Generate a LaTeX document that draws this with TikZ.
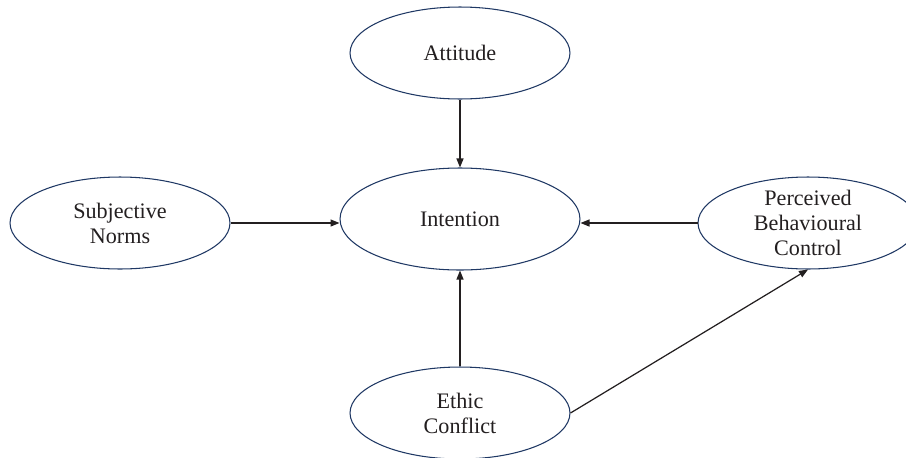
\documentclass[tikz,border=0pt]{standalone}
\usepackage{fontspec}
\setmainfont{Liberation Serif}
\usepackage{tikz}
\usetikzlibrary{arrows.meta,positioning,shapes.geometric}
\usepackage{xcolor}
\definecolor{ringblue}{RGB}{31,56,100}
\definecolor{inkgray}{RGB}{35,31,32}

\begin{document}
\begin{tikzpicture}[x=0.02cm,y=-0.02cm,>={Triangle[length=1.8mm,width=1.4mm]},
  every node/.style={font=\fontsize{12.6}{14.2}\selectfont,text=inkgray},
  construct/.style={draw=ringblue,line width=0.6pt,ellipse,fill=white,inner sep=0pt,align=center,
    minimum width=4.4cm,minimum height=1.84cm},
  link/.style={->,draw=inkgray,line width=0.7pt}]

% page frame
\useasboundingbox (0,0) rectangle (906,457);

% constructs of the model
\node[construct] (att) at (460,53) {Attitude};
\node[construct,minimum width=4.8cm,minimum height=2.04cm] (int) at (460,219) {Intention};
\node[construct] (sn) at (120,223) {Subjective\\Norms};
\node[construct,inner ysep=-4pt] (pbc) at (808,223) {Perceived\\Behavioural\\Control};
\node[construct] (ec) at (460,413) {Ethic\\Conflict};

% paths
\draw[link] (att.south) -- (int.north);
\draw[link] (sn.east) -- (sn.east -| int.west);
\draw[link] (pbc.west) -- (pbc.west -| int.east);
\draw[link] (ec.north) -- (int.south);
\draw[link] (ec.east) -- (pbc.south);

\end{tikzpicture}
\end{document}
